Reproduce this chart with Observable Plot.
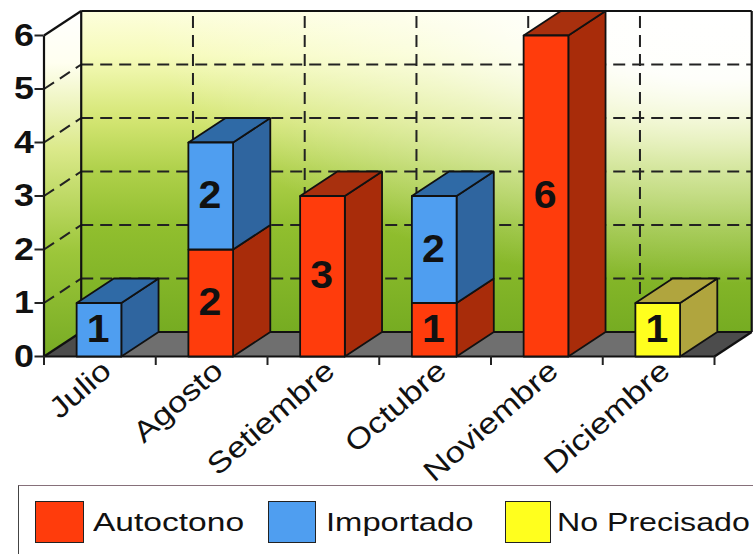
<!DOCTYPE html>
<html>
<head>
<meta charset="utf-8">
<script src="https://cdn.jsdelivr.net/npm/d3@7"></script>
<script src="https://cdn.jsdelivr.net/npm/@observablehq/plot@0.6"></script>
<style>
html,body{margin:0;padding:0;background:#fff;overflow:hidden}
svg{display:block}
#legend{position:relative;width:753px;height:74px;overflow:hidden;font-family:"Liberation Sans",Arial,sans-serif;font-size:26px;color:#111}
#legend .box{position:absolute;left:18px;top:5px;width:800px;height:120px;border:1.5px solid #444;border-top-color:#86707a;box-sizing:border-box}
#legend .sw{position:absolute;top:21px;height:42px;box-sizing:border-box;border:1.5px solid #222}
#legend .lb{position:absolute;top:27px;line-height:30px;white-space:nowrap;transform-origin:left center}
</style>
</head>
<body>
<div id="chart"></div>
<div id="legend"><div class="box"></div></div>
<script>
const months = ["Julio","Agosto","Setiembre","Octubre","Noviembre","Diciembre"];
const autoctono = [0,2,3,1,6,0];
const importado = [1,2,0,2,0,0];
const noPrecisado = [0,0,0,0,0,1];
const seriesNames = ["Autoctono","Importado","No Precisado"];
const yTicks = [0,1,2,3,4,5,6];
const gridValues = [1,2,3,4,5];
const colors = {
  "Autoctono": {front:"#ff3c0c", side:"#a82c0a", top:"#a8300e"},
  "Importado": {front:"#4f9ef0", side:"#2f659f", top:"#2f6aa6"},
  "No Precisado": {front:"#ffff1e", side:"#b0a53e", top:"#b0a53e"}
};
// depth of the perspective, in data units
const dx = 0.333, dy = 0.458;
const barL = 0.292, barR = 0.692;

const segments = [];
months.forEach((m,i) => {
  let base = 0;
  [autoctono,importado,noPrecisado].forEach((arr,k) => {
    if (arr[i] > 0) { segments.push({i, name:seriesNames[k], y0:base, y1:base+arr[i], v:arr[i]}); base += arr[i]; }
  });
});

function polys(list){ // list of {id, fill, pts:[[x,y],...]}
  return list.flatMap(p => [...p.pts, p.pts[0]].map(([x,y]) => ({id:p.id, fill:p.fill, x, y})));
}
const polyMark = (list, o={}) => Plot.line(polys(list), {x:"x", y:"y", z:"id", fill:"fill", stroke:"#111", strokeWidth:1.8, strokeLinejoin:"miter", ...o});

const sideFaces = segments.map((s,n) => ({id:"s"+n, fill:colors[s.name].side,
  pts:[[s.i+barR,s.y0],[s.i+barR+dx,s.y0+dy],[s.i+barR+dx,s.y1+dy],[s.i+barR,s.y1]]}));
const topFaces = segments.filter(s => s.y1 === autoctono[s.i]+importado[s.i]+noPrecisado[s.i]).map((s,n) => ({id:"t"+n, fill:colors[s.name].top,
  pts:[[s.i+barL,s.y1],[s.i+barL+dx,s.y1+dy],[s.i+barR+dx,s.y1+dy],[s.i+barR,s.y1]]}));
const frontFaces = segments.map((s,n) => ({id:"f"+n, fill:colors[s.name].front,
  pts:[[s.i+barL,s.y0],[s.i+barL,s.y1],[s.i+barR,s.y1],[s.i+barR,s.y0]]}));

const floor = [{id:"floor", fill:"#6f6f6f", pts:[[0,0],[dx,dy],[6+dx,dy],[6,0]]}];
const floorEnds = [
  {id:"fl", fill:"#4c4c4c", pts:[[0,0],[dx,dy],[barL+dx,dy],[barL,0]]},
  {id:"fr", fill:"#4c4c4c", pts:[[5+barR,0],[5+barR+dx,dy],[6+dx,dy],[6,0]]}
];
const backWallPts = [[dx,dy],[dx,6+dy],[6+dx,6+dy],[6+dx,dy]];
const backWall = [{id:"back", fill:"url(#wallBack)", pts:backWallPts}];
const backGlow = [{id:"glow", fill:"url(#wallGlow)", pts:backWallPts}];
const sideWall = [{id:"side", fill:"url(#wallSide)", pts:[[0,0],[0,6],[dx,6+dy],[dx,dy]]}];

const stretch = sx => (index, scales, values, dims, context, next) => {
  const g = next(index, scales, values, dims, context);
  g.querySelectorAll("text").forEach(t => t.setAttribute("transform", (t.getAttribute("transform")||"") + ` scale(${sx},1)`));
  return g;
};

const defs = () => d3.create("svg:defs").html(`
  <linearGradient id="wallBack" x1="0.5" y1="0" x2="0.5" y2="1">
    <stop offset="0" stop-color="#fdfedc"/><stop offset="0.14" stop-color="#f6fbba"/>
    <stop offset="0.34" stop-color="#d3e572"/><stop offset="0.5" stop-color="#aed04a"/>
    <stop offset="0.68" stop-color="#90be2e"/><stop offset="1" stop-color="#76ac22"/>
  </linearGradient>
  <radialGradient id="wallGlow" cx="0.95" cy="0" r="0.85" fx="0.95" fy="0">
    <stop offset="0" stop-color="#fff" stop-opacity="1"/><stop offset="0.25" stop-color="#fff" stop-opacity="0.95"/>
    <stop offset="0.55" stop-color="#fff" stop-opacity="0.5"/><stop offset="1" stop-color="#fff" stop-opacity="0"/>
  </radialGradient>
  <linearGradient id="wallSide" x1="0" y1="0" x2="0" y2="1">
    <stop offset="0" stop-color="#ffffff"/><stop offset="0.15" stop-color="#fffff0"/>
    <stop offset="0.4" stop-color="#dbe98a"/><stop offset="0.7" stop-color="#9cc63a"/>
    <stop offset="1" stop-color="#78ac24"/>
  </linearGradient>`).node();

const dash = {stroke:"#222", strokeWidth:2, strokeDasharray:"12 7"};
const numLabels = segments.map(s => ({x:s.i+0.485, y:(s.y0+s.y1)/2, t:String(s.v)}));
const monthRows = months.map((m,i) => ({x:i+0.5, m}));

const chart = Plot.plot({
  width:753, height:480,
  marginLeft:43.5, marginRight:39, marginTop:35, marginBottom:124,
  x:{type:"linear", domain:[0,6], range:[43.5,714]},
  y:{type:"linear", domain:[0,6], range:[356,35]},
  style:{background:"transparent", overflow:"visible"},
  marks:[
    defs,
    polyMark(sideWall, {stroke:"none"}),
    polyMark(backWall, {stroke:"none"}),
    polyMark(backGlow, {stroke:"none"}),
    polyMark(floor, {stroke:"none"}),
    polyMark(floorEnds, {stroke:"none"}),
    // dashed grid on the back wall and side wall
    Plot.link(gridValues, {x1:dx, x2:6+dx, y1:v=>v+dy, y2:v=>v+dy, ...dash}),
    Plot.link(gridValues, {x1:0, x2:dx, y1:v=>v, y2:v=>v+dy, ...dash}),
    Plot.link(gridValues, {x1:v=>v+dx, x2:v=>v+dx, y1:dy, y2:6+dy, ...dash}),
    // frame
    Plot.link([
      {a:dx,b:dy,c:dx,d:6+dy},{a:dx,b:6+dy,c:6+dx,d:6+dy},{a:6+dx,b:6+dy,c:6+dx,d:dy},
      {a:dx,b:dy,c:6+dx,d:dy},{a:0,b:0,c:dx,d:dy},{a:0,b:6,c:dx,d:6+dy},{a:6,b:0,c:6+dx,d:dy},
      {a:0,b:0,c:0,d:6},{a:0,b:0,c:6,d:0}
    ], {x1:"a", y1:"b", x2:"c", y2:"d", stroke:"#111", strokeWidth:2.2}),
    polyMark(sideFaces),
    polyMark(topFaces),
    polyMark(frontFaces),
    Plot.text(numLabels, {x:"x", y:"y", text:"t", fontFamily:"Liberation Sans", fontWeight:"bold", fontSize:38, fill:"#111", render:stretch(1.08)}),
    Plot.axisY({ticks:yTicks, tickFormat:"d", label:null, tickSize:9, tickPadding:1, strokeWidth:2, stroke:"#222", fontFamily:"Liberation Sans", fontWeight:"bold", fontSize:32, fill:"#111", render:stretch(1.12)}),
    Plot.axisX({ticks:yTicks, tickFormat:()=>"", label:null, tickSize:9, strokeWidth:2, stroke:"#222"}),
    Plot.text(monthRows, {x:"x", y:0, text:"m", rotate:-41, textAnchor:"end", dx:7, dy:10, fontFamily:"Liberation Sans", fontSize:29, fill:"#111", render:stretch(1.19)})
  ]
});
document.getElementById("chart").appendChild(chart);

const legend = document.getElementById("legend");
const swatchPos = [[35,49,93,1.29],[268,48,326,1.26],[505,46,557,1.235]];
seriesNames.forEach((name,k) => {
  const [l,w,tx,sx] = swatchPos[k];
  const s = document.createElement("div"); s.className="sw"; s.style.left=l+"px"; s.style.width=w+"px"; s.style.background=colors[name].front;
  const t = document.createElement("div"); t.className="lb"; t.style.left=tx+"px"; t.style.transform=`scaleX(${sx})`; t.textContent=name;
  legend.append(s,t);
});
</script>
</body>
</html>
